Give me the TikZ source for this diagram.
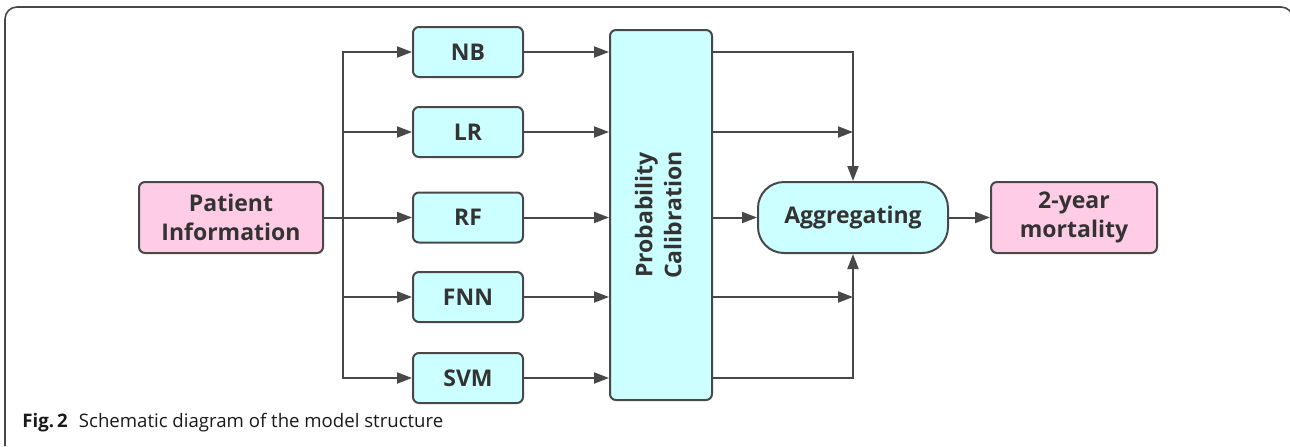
\documentclass[tikz,border=0pt]{standalone}
\usepackage{fontspec}
\setmainfont{Open Sans}
\usetikzlibrary{arrows.meta,positioning,calc}
\definecolor{boxcyan}{RGB}{204,255,255}
\definecolor{boxpink}{RGB}{255,204,230}
\definecolor{linegray}{RGB}{72,72,72}
\definecolor{textgray}{RGB}{51,51,51}

\begin{document}
\begin{tikzpicture}[x=0.5pt,y=-0.5pt,
        box/.style={draw=linegray, line width=1pt, rounded corners=3pt, align=center,
            text=textgray, inner sep=0pt, font=\fontsize{11.5}{14.5}\selectfont\bfseries},
        modelbox/.style={box, fill=boxcyan, minimum width=55pt, minimum height=25pt},
        endbox/.style={box, fill=boxpink, minimum height=35.5pt},
        arr/.style={draw=linegray, line width=1pt, -{Triangle[length=7.5pt,width=5.5pt]}},
        link/.style={draw=linegray, line width=1pt}]
        \useasboundingbox (0,0) rectangle (1290,446);
        % Rahmen der Abbildung
        \draw[linegray, line width=0.8pt, rounded corners=6pt] (5,446) -- (5,7) -- (1293,7) -- (1293,40);
        % Eingang
        \node[endbox, minimum width=92pt] (patient) at (231,217.5) {Patient\\Information};
        \coordinate (split) at (343,217.5);
        % Modelle
        \node[modelbox] (nb) at (468,52) {NB};
        \node[modelbox] (lr) at (468,132) {LR};
        \node[modelbox] (rf) at (468,217.5) {RF};
        \node[modelbox] (fnn) at (468,297) {FNN};
        \node[modelbox] (svm) at (468,378) {SVM};
        % Kalibrierung
        \node[box, fill=boxcyan, minimum width=51pt, minimum height=185pt] (calib) at (661,215)
            {\rotatebox{90}{\begin{tabular}{@{}c@{}}Probability\\Calibration\end{tabular}}};
        % Aggregation und Ausgang
        \node[box, fill=boxcyan, rounded corners=13pt, minimum width=95pt, minimum height=35.5pt] (agg) at (853,217.5) {Aggregating};
        \node[endbox, minimum width=83pt] (mort) at (1074,217.5) {2-year\\mortality};
        % Verbindungen
        \draw[arr] (patient) -- (rf);
        \foreach \m in {nb,lr,fnn,svm}
            \draw[arr] (split) |- (\m.west);
        \foreach \m in {nb,lr,rf,fnn,svm}
            \draw[arr] (\m.east) -- (\m.east -| calib.west);
        \draw[arr] (calib.east |- nb) -| (agg.north);
        \draw[arr] (calib.east |- lr) -- (lr -| agg);
        \draw[arr] (calib.east |- rf) -- (agg.west);
        \draw[arr] (calib.east |- fnn) -- (fnn -| agg);
        \draw[arr] (calib.east |- svm) -| (agg.south);
        \draw[arr] (agg) -- (mort);
        % Bildunterschrift
        \node[anchor=base west, inner sep=0pt, text=black!90, font=\fontsize{9.3}{11}\selectfont] (caption) at (22,427)
            {\textbf{Fig.\,2}\hspace{0.6em}Schematic diagram of the model structure};
    \end{tikzpicture}
\end{document}
